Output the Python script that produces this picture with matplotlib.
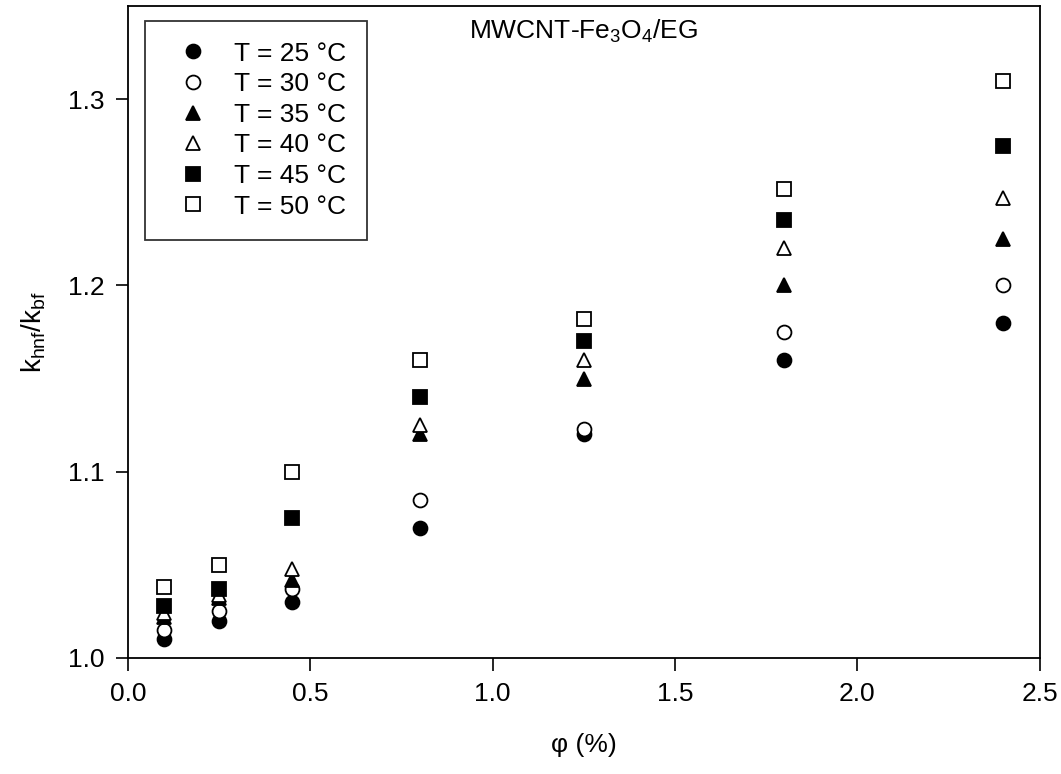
import matplotlib
matplotlib.use("Agg")
import matplotlib.pyplot as plt

plt.rcParams['font.family'] = ['Liberation Sans', 'DejaVu Sans']
plt.rcParams['mathtext.fontset'] = 'custom'
plt.rcParams['mathtext.rm'] = 'Liberation Sans'
plt.rcParams['mathtext.it'] = 'Liberation Sans'

# volume fraction (%)
phi = [0.1, 0.25, 0.45, 0.8, 1.25, 1.8, 2.4]

# thermal conductivity ratio for each temperature
k_25 = [1.010, 1.020, 1.030, 1.070, 1.120, 1.160, 1.180]
k_30 = [1.015, 1.025, 1.037, 1.085, 1.123, 1.175, 1.200]
k_35 = [1.022, 1.032, 1.042, 1.120, 1.150, 1.200, 1.225]
k_40 = [1.024, 1.034, 1.048, 1.125, 1.160, 1.220, 1.247]
k_45 = [1.028, 1.037, 1.075, 1.140, 1.170, 1.235, 1.275]
k_50 = [1.038, 1.050, 1.100, 1.160, 1.182, 1.252, 1.310]

labels = ['T = 25 °C', 'T = 30 °C', 'T = 35 °C', 'T = 40 °C', 'T = 45 °C', 'T = 50 °C']

fig = plt.figure(figsize=(10.61, 7.74), dpi=100)
ax = fig.add_axes([0.1206, 0.150, 0.8594, 0.842])

series = [
    (k_25, 'o', 'black'),
    (k_30, 'o', 'white'),
    (k_35, '^', 'black'),
    (k_40, '^', 'white'),
    (k_45, 's', 'black'),
    (k_50, 's', 'white'),
]
for (vals, mk, fc), lab in zip(series, labels):
    ax.plot(phi, vals, linestyle='none', marker=mk, markersize=10,
            markerfacecolor=fc, markeredgecolor='black', markeredgewidth=1.3,
            label=lab)

ax.set_xlim(0, 2.5)
ax.set_ylim(1.0, 1.35)
ax.set_xticks([0.0, 0.5, 1.0, 1.5, 2.0, 2.5])
ax.set_yticks([1.0, 1.1, 1.2, 1.3])
ax.tick_params(direction='out', length=9, width=1.2, labelsize=19,
               top=False, right=False, pad=8)
for s in ax.spines.values():
    s.set_linewidth(1.3)

ax.set_xlabel('φ (%)', fontsize=19, labelpad=20)
ax.set_ylabel(r'k$_{\mathregular{hnf}}$/k$_{\mathregular{bf}}$', fontsize=20, labelpad=14)

ax.text(0.50, 0.962, r'MWCNT-Fe$_{\mathregular{3}}$O$_{\mathregular{4}}$/EG',
        transform=ax.transAxes, ha='center', va='center', fontsize=19)

leg = ax.legend(loc='upper left', bbox_to_anchor=(0.019, 0.978), fontsize=19,
                frameon=True, fancybox=False, edgecolor='black',
                handlelength=2.0, handletextpad=0.55, labelspacing=0.25,
                borderpad=0.8, borderaxespad=0)
leg.get_frame().set_linewidth(1.3)

fig.savefig('out.png', dpi=100)
